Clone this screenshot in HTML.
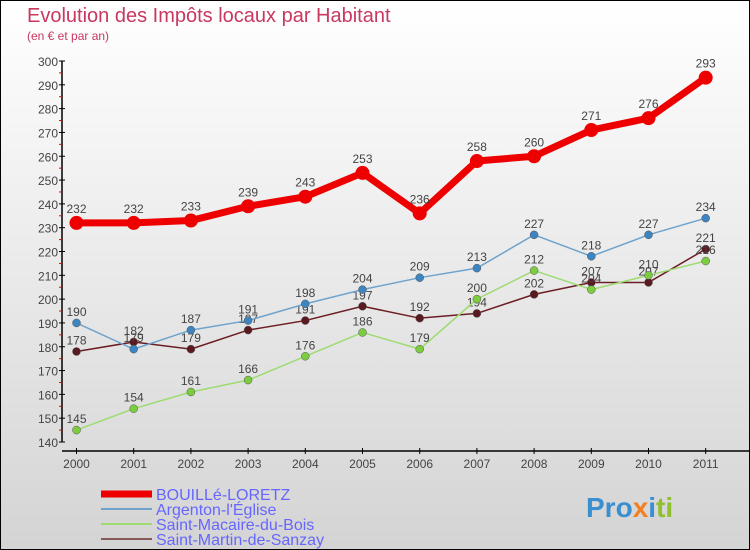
<!DOCTYPE html>
<html><head><meta charset="utf-8"><style>
body{margin:0}
#c{position:relative;width:748px;height:548px;border:1px solid #000;background:linear-gradient(#fff,#d4d4d4);font-family:"Liberation Sans",sans-serif;overflow:hidden}
svg{position:absolute;left:0;top:0}
</style></head><body>
<div id="c">
<svg id="s" width="748" height="548">
<text x="26" y="21" font-size="20" fill="#c8385f">Evolution des Impôts locaux par Habitant</text>
<text x="26" y="39" font-size="12" fill="#c8385f">(en € et par an)</text>
<text x="585" y="516" font-size="28" font-weight="bold" fill="#3a8fd0">Pro<tspan fill="#f08020">x</tspan><tspan fill="#3a8fd0">i</tspan><tspan fill="#90c030">ti</tspan></text>
</svg>
</div>
<script>
const years=[2000,2001,2002,2003,2004,2005,2006,2007,2008,2009,2010,2011];
const yTicks=[140,150,160,170,180,190,200,210,220,230,240,250,260,270,280,290,300];
const bouille=[232,232,233,239,243,253,236,258,260,271,276,293];
const argenton=[190,179,187,191,198,204,209,213,227,218,227,234];
const macaire=[145,154,161,166,176,186,179,200,212,204,210,216];
const martin=[178,182,179,187,191,197,192,194,202,207,207,221];
const names=["BOUILLé-LORETZ","Argenton-l'Église","Saint-Macaire-du-Bois","Saint-Martin-de-Sanzay"];
const NS="http://www.w3.org/2000/svg",s=document.getElementById('s');
const X=i=>75.5+i*57.2, Y=v=>441-(v-140)*(381/160);
function el(t,a,p){const e=document.createElementNS(NS,t);for(const k in a)e.setAttribute(k,a[k]);(p||s).appendChild(e);return e;}
let ax=el('line',{x1:61,y1:Y(300),x2:61,y2:441,stroke:'#000','stroke-width':1.5});


let bx=el('line',{x1:61,y1:450,x2:748,y2:450,stroke:'#000','stroke-width':1.5});


yTicks.forEach(v=>{
 el('line',{x1:58,x2:64,y1:Y(v),y2:Y(v),stroke:'#000'});
 if(v<300)el('line',{x1:58,x2:61,y1:Y(v+5),y2:Y(v+5),stroke:'#e00'});
 const t=el('text',{x:57,y:Y(v)+5,'text-anchor':'end','font-size':12,fill:'#444'});t.textContent=v;
 
 
});
years.forEach((y,i)=>{
 el('line',{x1:X(i),x2:X(i),y1:447,y2:453,stroke:'#000'});
 const t=el('text',{x:X(i),y:467,'text-anchor':'middle','font-size':12,fill:'#444'});t.textContent=y;
 
 
});
const series=[[martin,'#6b1e24',1.5,'#5a1a20',4,'martin'],[macaire,'#9ddc70',1.5,'#7ccc40',4,'macaire'],[argenton,'#6fa3cc',1.5,'#3d85c0',4,'argenton'],[bouille,'#ee0000',7,'#ee0000',7,'bouille']];
series.forEach(([d,c,w,fc,r,n])=>{
 const p=el('polyline',{points:d.map((v,i)=>X(i)+','+Y(v)).join(' '),fill:'none',stroke:c,'stroke-width':w,'stroke-linejoin':'round'});
 
 
 d.forEach((v,i)=>{
  const q=el('circle',{cx:X(i),cy:Y(v),r:r,fill:fc,stroke:n=='bouille'?'none':'#555','stroke-width':0.5});
  
  
  const t=el('text',{x:X(i),y:Y(v)-(n=='bouille'?10:7),'text-anchor':'middle','font-size':12,fill:'#444'});t.textContent=v;
  
  
 });
});
const lc=['#ee0000','#6fa3cc','#9ddc70','#8a5a5a'],lw=[7,2,2,2];
names.forEach((nm,i)=>{
 const y=493+i*15;
 const l=el('line',{x1:100,x2:151,y1:y,y2:y,stroke:lc[i],'stroke-width':lw[i]});
 
 
 const t=el('text',{x:155,y:y+6,'font-size':16,fill:'#6666ff'});t.textContent=nm;
 
 
});
</script>
</body></html>
